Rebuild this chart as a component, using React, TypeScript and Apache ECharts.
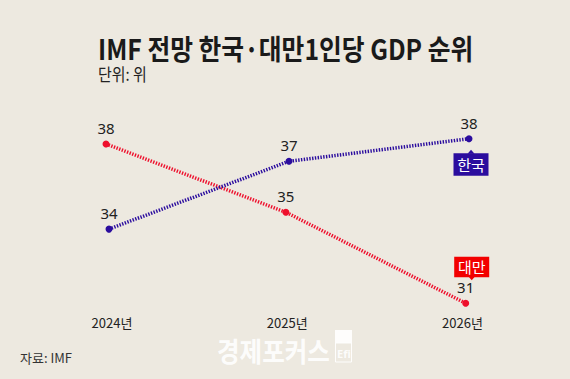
import React, { useEffect, useRef } from "react";
import * as echarts from "echarts";

const years = ["2024년", "2025년", "2026년"];
const korea = [34, 37, 38];
const taiwan = [38, 35, 31];
const titleText = "IMF 전망 한국·대만1인당 GDP 순위";
const unitText = "단위: 위";
const sourceText = "자료: IMF";
const brandText = "경제포커스";

const BG = "#EDE9E0";
const BLUE = "#2B0D9E";
const RED = "#EE0F2C";
const KR = '"Noto Sans CJK KR", "Noto Sans", sans-serif';

export default function App() {
  const ref = useRef<HTMLDivElement>(null);
  useEffect(() => {
    const chart = echarts.init(ref.current!, null, { renderer: "svg" });
    const labelStyle = {
      show: true,
      position: "top",
      distance: 5,
      color: "#222",
      fontSize: 15,
      fontFamily: '"Noto Sans", sans-serif',
    };
    chart.setOption({
      animation: false,
      backgroundColor: BG,
      grid: [
        { left: 106, width: 359.7, top: 98.5, height: 227.5 },
        { left: 109, width: 360, top: 93.5, height: 203.4 },
        { left: 112, width: 350.5, top: 300, height: 10 },
      ],
      xAxis: [
        { type: "category", gridIndex: 0, data: years, boundaryGap: false, show: false },
        { type: "category", gridIndex: 1, data: years, boundaryGap: false, show: false },
        {
          type: "category",
          gridIndex: 2,
          data: years,
          boundaryGap: false,
          axisLine: { show: false },
          axisTick: { show: false },
          axisLabel: { margin: 6, color: "#222", fontSize: 13, fontFamily: KR },
        },
      ],
      yAxis: [
        { type: "value", gridIndex: 0, min: 30, max: 40, show: false },
        { type: "value", gridIndex: 1, min: 31, max: 40, show: false },
        { type: "value", gridIndex: 2, show: false },
      ],
      series: [
        {
          name: "대만",
          type: "line",
          xAxisIndex: 0,
          yAxisIndex: 0,
          data: taiwan,
          symbol: "circle",
          symbolSize: 7,
          itemStyle: { color: RED },
          lineStyle: { color: RED, width: 3.5, type: [1.4, 1.4] },
          label: labelStyle,
        },
        {
          name: "한국",
          type: "line",
          xAxisIndex: 1,
          yAxisIndex: 1,
          data: korea,
          symbol: "circle",
          symbolSize: 7,
          itemStyle: { color: BLUE },
          lineStyle: { color: BLUE, width: 3.5, type: [1.4, 1.4] },
          label: labelStyle,
        },
      ],
    });

    const kp = chart.convertToPixel({ seriesIndex: 1 }, [2, korea[2]]) as number[];
    const tp = chart.convertToPixel({ seriesIndex: 0 }, [2, taiwan[2]]) as number[];
    const kcx = kp[0] + 2;
    const tcx = tp[0] + 6;

    chart.setOption({
      graphic: [
        {
          type: "group",
          x: 98,
          y: 48,
          scaleX: 0.885,
          children: [
            {
              type: "text",
              x: 0,
              y: 0,
              style: {
                text: titleText,
                fill: "#1a1a1a",
                fontSize: 28,
                fontWeight: "bold",
                fontFamily: KR,
                verticalAlign: "middle",
              },
            },
          ],
        },
        {
          type: "group",
          x: 98,
          y: 73.5,
          scaleX: 0.88,
          children: [
            {
              type: "text",
              style: {
                text: unitText,
                fill: "#222",
                fontSize: 17,
                fontFamily: KR,
                verticalAlign: "middle",
              },
            },
          ],
        },
        {
          type: "text",
          x: 20,
          y: 357,
          style: {
            text: sourceText,
            fill: "#333",
            fontSize: 13,
            fontFamily: KR,
            verticalAlign: "middle",
          },
        },
        {
          type: "group",
          x: 217,
          y: 350,
          scaleX: 0.91,
          children: [
            {
              type: "text",
              style: {
                text: brandText,
                fill: "rgba(255,255,255,0.9)",
                fontSize: 27,
                fontWeight: "bold",
                fontFamily: KR,
                verticalAlign: "middle",
              },
            },
          ],
        },
        {
          type: "rect",
          shape: { x: 335, y: 330, width: 17, height: 13 },
          style: { fill: "rgba(255,255,255,0.9)" },
        },
        {
          type: "rect",
          shape: { x: 335.5, y: 343, width: 16, height: 19 },
          style: { fill: "none", stroke: "rgba(255,255,255,0.9)", lineWidth: 1 },
        },
        {
          type: "text",
          x: 337,
          y: 353,
          style: {
            text: "Efi",
            fill: "rgba(255,255,255,0.9)",
            fontSize: 11,
            fontWeight: "bold",
            fontFamily: '"Noto Sans", sans-serif',
            verticalAlign: "middle",
          },
        },
        // Korea callout
        {
          type: "polygon",
          shape: {
            points: [
              [kcx, kp[1] + 11],
              [kcx - 3.5, kp[1] + 15],
              [kcx + 3.5, kp[1] + 15],
            ],
          },
          style: { fill: BLUE },
        },
        {
          type: "rect",
          shape: { x: kcx - 17.5, y: kp[1] + 14.5, width: 35, height: 22.5 },
          style: { fill: BLUE },
        },
        {
          type: "text",
          x: kcx,
          y: kp[1] + 26,
          style: {
            text: "한국",
            fill: "#fff",
            fontSize: 15,
            fontFamily: KR,
            align: "center",
            verticalAlign: "middle",
          },
        },
        // Taiwan callout
        {
          type: "polygon",
          shape: {
            points: [
              [tcx, tp[1] - 23],
              [tcx - 3.5, tp[1] - 27],
              [tcx + 3.5, tp[1] - 27],
            ],
          },
          style: { fill: "#F20000" },
        },
        {
          type: "rect",
          shape: { x: tcx - 17.5, y: tp[1] - 46.6, width: 35, height: 20.5 },
          style: { fill: "#F20000" },
        },
        {
          type: "text",
          x: tcx,
          y: tp[1] - 36.5,
          style: {
            text: "대만",
            fill: "#fff",
            fontSize: 15,
            fontFamily: KR,
            align: "center",
            verticalAlign: "middle",
          },
        },
      ],
    });

    return () => chart.dispose();
  }, []);

  return (
    <div
      ref={ref}
      style={{ position: "fixed", left: 0, top: 0, width: 570, height: 379 }}
    />
  );
}
